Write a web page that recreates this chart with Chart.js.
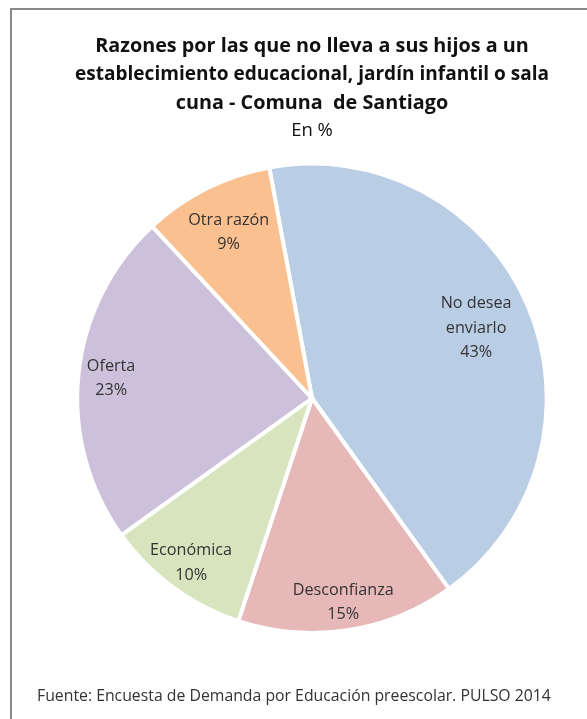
<!DOCTYPE html>
<html>
<head>
<meta charset="utf-8">
<script src="https://cdn.jsdelivr.net/npm/chart.js@4.4.1/dist/chart.umd.min.js"></script>
<style>
  html, body { margin: 0; padding: 0; background: #fff; }
  #wrap { position: relative; width: 587px; height: 719px; overflow: hidden; background: #fff; }
  #frameTop { position: absolute; left: 10px; top: 8px; width: 577px; height: 0; border-top: 2px solid #8a8a8a; }
  #frameLeft { position: absolute; left: 10px; top: 8px; width: 0; height: 711px; border-left: 2px solid #8a8a8a; }
  canvas { position: absolute; left: 0; top: 0; }
  #footer { position: absolute; left: 37px; top: 684px; font-family: "Open Sans", sans-serif; font-size: 15.8px; color: #333; white-space: nowrap; }
</style>
</head>
<body>
<div id="wrap">
  <canvas id="c" width="587" height="719"></canvas>
  <div id="frameTop"></div>
  <div id="frameLeft"></div>
  <div id="footer">Fuente: Encuesta de Demanda por Educación preescolar. PULSO 2014</div>
</div>
<script>
const titleLines = ['Razones por las que no lleva a sus hijos a un', 'establecimiento educacional, jardín infantil o sala', 'cuna - Comuna  de Santiago'];
const subtitleText = 'En %';
const categories = [['No desea', 'enviarlo'], ['Desconfianza'], ['Económica'], ['Oferta'], ['Otra razón']];
const values = [43, 15, 10, 23, 9];
const colors = ['#B9CDE5', '#E6B9B8', '#D7E4BD', '#CCC1DA', '#FAC090'];

const labelFractions = [0.76, 0.88, 0.87, 0.86, 0.79];

const sliceLabels = {
  id: 'sliceLabels',
  afterDatasetsDraw(chart) {
    const ctx = chart.ctx;
    const meta = chart.getDatasetMeta(0);
    ctx.save();
    ctx.font = '16.2px "Open Sans", sans-serif';
    ctx.fillStyle = '#333333';
    ctx.textAlign = 'center';
    ctx.textBaseline = 'middle';
    const lh = 24.5;
    meta.data.forEach((arc, i) => {
      const p = arc.getProps(['x', 'y', 'startAngle', 'endAngle', 'outerRadius'], true);
      const mid = (p.startAngle + p.endAngle) / 2;
      const r = p.outerRadius * labelFractions[i];
      const cx = p.x + Math.cos(mid) * r;
      const cy = p.y + Math.sin(mid) * r;
      const lines = categories[i].concat([values[i] + '%']);
      const y0 = cy - (lines.length - 1) * lh / 2;
      lines.forEach((t, k) => ctx.fillText(t, cx, y0 + k * lh));
    });
    ctx.restore();
  }
};

new Chart(document.getElementById('c'), {
  type: 'pie',
  data: {
    labels: categories,
    datasets: [{
      data: values,
      backgroundColor: colors,
      borderColor: '#ffffff',
      borderWidth: 4
    }]
  },
  options: {
    responsive: false,
    animation: false,
    devicePixelRatio: 1,
    rotation: -10.5,
    layout: { padding: { left: 75, right: 38, top: 0, bottom: 84 } },
    plugins: {
      legend: { display: false },
      tooltip: { enabled: false },
      title: {
        display: true,
        text: titleLines,
        color: '#111111',
        font: { family: '"Open Sans", sans-serif', size: 19.8, weight: 'bold', lineHeight: '28.5px' },
        padding: { top: 32, bottom: 0 }
      },
      subtitle: {
        display: true,
        text: subtitleText,
        color: '#111111',
        font: { family: '"Open Sans", sans-serif', size: 18.5, weight: 'normal', lineHeight: '20px' },
        padding: { top: 3, bottom: 21 }
      }
    }
  },
  plugins: [sliceLabels]
});
</script>
</body>
</html>
